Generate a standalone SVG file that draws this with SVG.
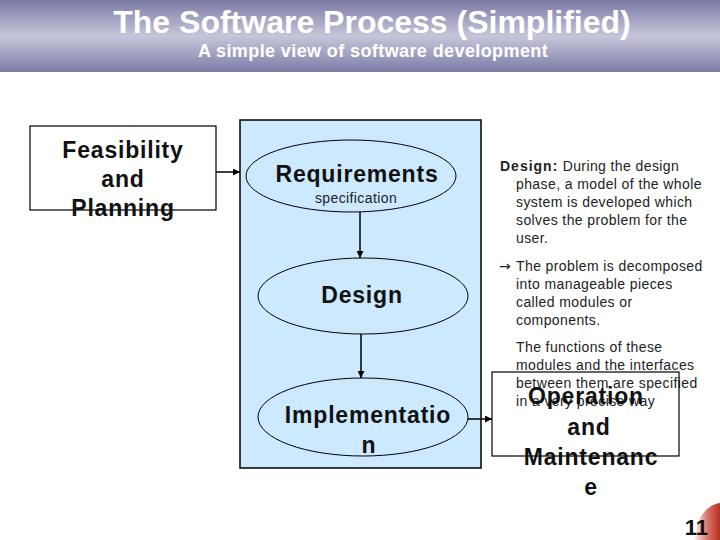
<svg xmlns="http://www.w3.org/2000/svg" width="720" height="540" viewBox="0 0 720 540">
<defs>
<linearGradient id="hdr" x1="0" y1="0" x2="0" y2="1">
<stop offset="0" stop-color="#7a7aa6"/>
<stop offset="0.5" stop-color="#c6c6da"/>
<stop offset="1" stop-color="#7c7ca8"/>
</linearGradient>
<linearGradient id="corner" x1="0" y1="0" x2="1" y2="0">
<stop offset="0" stop-color="#fbe9e6"/>
<stop offset="0.5" stop-color="#d8766a"/>
<stop offset="1" stop-color="#b5301f"/>
</linearGradient>
<marker id="ah" viewBox="0 0 10 10" refX="10" refY="5" markerWidth="7" markerHeight="7" markerUnits="userSpaceOnUse" orient="auto">
<path d="M0,0 L10,5 L0,10 Z" fill="#000"/>
</marker>
<style>
.box{fill:none;stroke:#000;stroke-width:1.2}
.ell{fill:none;stroke:#000;stroke-width:1}
.big{font-family:"Liberation Sans",Arial,sans-serif;font-weight:bold;font-size:23px;fill:#111;text-anchor:middle;letter-spacing:0.8px}
.small{font-family:"Liberation Sans",Arial,sans-serif;font-size:14px;fill:#222;letter-spacing:0.4px}
.conn{stroke:#000;stroke-width:1.5;fill:none;marker-end:url(#ah)}
</style>
</defs>
<rect x="0" y="0" width="720" height="540" fill="#fff"/>
<g id="header">
<rect x="0" y="0" width="720" height="72" fill="url(#hdr)"/>
<text x="372" y="33" font-family="Liberation Sans, Arial, sans-serif" font-weight="bold" font-size="32" fill="#fff" text-anchor="middle">The Software Process (Simplified)</text>
<text x="373" y="57" font-family="Liberation Sans, Arial, sans-serif" font-weight="bold" font-size="18" fill="#fff" text-anchor="middle" letter-spacing="0.4">A simple view of software development</text>
</g>
<g id="dev-phase">
<rect x="240" y="120" width="241" height="348" fill="#cde9fd" stroke="#000" stroke-width="1.5"/>
</g>
<g id="description" class="small">
<text x="500" y="171"><tspan font-weight="bold" letter-spacing="1">Design:</tspan> During the design</text>
<text x="516" y="189">phase, a model of the whole</text>
<text x="516" y="207">system is developed which</text>
<text x="516" y="225">solves the problem for the</text>
<text x="516" y="243">user.</text>
<text x="499" y="271"><tspan font-family="DejaVu Sans, sans-serif" font-size="14" letter-spacing="0">→</tspan><tspan x="516">The problem is decomposed</tspan></text>
<text x="516" y="289">into manageable pieces</text>
<text x="516" y="307">called modules or</text>
<text x="516" y="325">components.</text>
<text x="516" y="352">The functions of these</text>
<text x="516" y="370">modules and the interfaces</text>
<text x="516" y="388">between them are specified</text>
<text x="516" y="406">in a very precise way</text>
</g>
<g id="feasibility">
<rect class="box" x="30" y="126" width="186" height="84" fill="#fff"/>
<text class="big" x="123" y="158">Feasibility</text>
<text class="big" x="123" y="187">and</text>
<text class="big" x="123" y="216">Planning</text>
</g>
<g id="requirements">
<ellipse class="ell" cx="351" cy="176" rx="105" ry="36"/>
<text class="big" x="357" y="182">Requirements</text>
<text class="small" x="356" y="203" text-anchor="middle" letter-spacing="0.2">specification</text>
</g>
<g id="design">
<ellipse class="ell" cx="363" cy="296" rx="105" ry="38"/>
<text class="big" x="362" y="303">Design</text>
</g>
<g id="implementation">
<ellipse class="ell" cx="363" cy="417" rx="105" ry="39"/>
<text class="big" x="368" y="423">Implementatio</text>
<text class="big" x="369" y="453">n</text>
</g>
<g id="operation">
<rect class="box" x="492" y="372" width="187" height="84"/>
<text class="big" x="586" y="404">Operation</text>
<text class="big" x="589" y="435">and</text>
<text class="big" x="591" y="465">Maintenanc</text>
<text class="big" x="591" y="495">e</text>
</g>
<g id="connectors">
<line class="conn" x1="216" y1="172" x2="240" y2="172"/>
<line class="conn" x1="360" y1="212" x2="360" y2="258"/>
<line class="conn" x1="361" y1="334" x2="361" y2="378"/>
<line class="conn" x1="468" y1="419" x2="492" y2="419"/>
</g>
<g id="page-number">
<path d="M720,503 C706,505 696,518 695,540 L720,540 Z" fill="url(#corner)"/>
<text x="708" y="535" font-family="Liberation Sans, Arial, sans-serif" font-weight="bold" font-size="22" fill="#111" text-anchor="end">11</text>
</g>
</svg>
